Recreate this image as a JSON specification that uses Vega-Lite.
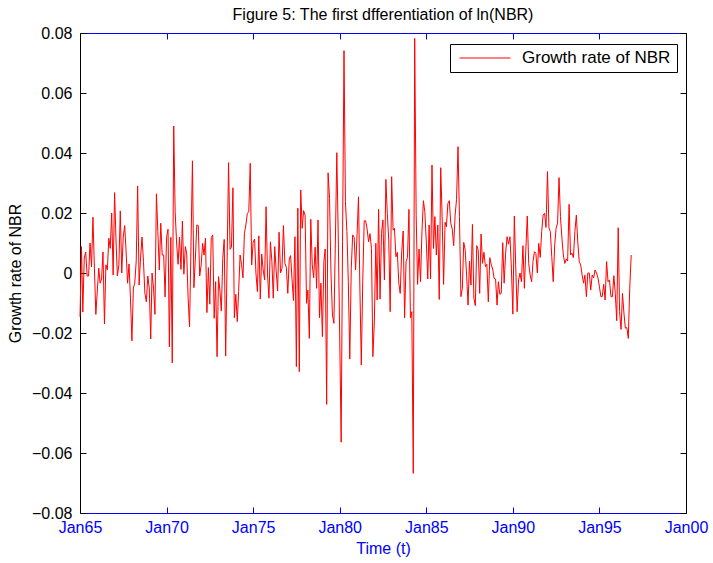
{
  "$schema": "https://vega.github.io/schema/vega-lite/v6.json",
  "width": 606,
  "height": 480,
  "autosize": {"type": "none"},
  "padding": {"left": 80, "top": 33, "right": 27, "bottom": 50},
  "background": "white",
  "config": {"view": {"stroke": null}, "font": "Liberation Sans"},
  "title": {
    "text": "Figure 5: The first dfferentiation of ln(NBR)",
    "anchor": "middle",
    "frame": "group",
    "font": "Liberation Sans",
    "fontSize": 16,
    "fontWeight": "normal",
    "color": "black",
    "baseline": "bottom",
    "offset": 3,
    "dy": 17
  },
  "data": {
    "values": [
      {"t": "1965-01", "g": -0.0146}, {"t": "1965-02", "g": 0.0088}, {"t": "1965-03", "g": -0.013}, {"t": "1965-04", "g": 0.005}, {"t": "1965-05", "g": 0.007}, {"t": "1965-06", "g": -0.001}, {"t": "1965-07", "g": -0.001}, {"t": "1965-08", "g": 0.010}, {"t": "1965-09", "g": 0.002}, {"t": "1965-10", "g": 0.0186}, {"t": "1965-11", "g": 0.0016}, {"t": "1965-12", "g": -0.0138},
      {"t": "1966-01", "g": -0.006}, {"t": "1966-02", "g": 0.0016}, {"t": "1966-03", "g": -0.0034}, {"t": "1966-04", "g": -0.002}, {"t": "1966-05", "g": 0.007}, {"t": "1966-06", "g": -0.017}, {"t": "1966-07", "g": 0.0027}, {"t": "1966-08", "g": 0.001}, {"t": "1966-09", "g": 0.0116}, {"t": "1966-10", "g": 0.0082}, {"t": "1966-11", "g": 0.020}, {"t": "1966-12", "g": -0.0007},
      {"t": "1967-01", "g": 0.0268}, {"t": "1967-02", "g": 0.0104}, {"t": "1967-03", "g": -0.001}, {"t": "1967-04", "g": 0.0027}, {"t": "1967-05", "g": 0.0207}, {"t": "1967-06", "g": 0}, {"t": "1967-07", "g": 0.012}, {"t": "1967-08", "g": 0.0158}, {"t": "1967-09", "g": 0.007}, {"t": "1967-10", "g": -0.0034}, {"t": "1967-11", "g": 0.003}, {"t": "1967-12", "g": -0.0084},
      {"t": "1968-01", "g": -0.0226}, {"t": "1968-02", "g": -0.005}, {"t": "1968-03", "g": -0.0034}, {"t": "1968-04", "g": 0.004}, {"t": "1968-05", "g": 0.029}, {"t": "1968-06", "g": -0.004}, {"t": "1968-07", "g": 0.005}, {"t": "1968-08", "g": 0.012}, {"t": "1968-09", "g": 0.0038}, {"t": "1968-10", "g": -0.0068}, {"t": "1968-11", "g": -0.0096}, {"t": "1968-12", "g": -0.001},
      {"t": "1969-01", "g": -0.005}, {"t": "1969-02", "g": -0.022}, {"t": "1969-03", "g": 0}, {"t": "1969-04", "g": -0.005}, {"t": "1969-05", "g": -0.0138}, {"t": "1969-06", "g": 0.0264}, {"t": "1969-07", "g": 0.0138}, {"t": "1969-08", "g": 0.001}, {"t": "1969-09", "g": 0.0166}, {"t": "1969-10", "g": 0.006}, {"t": "1969-11", "g": 0.006}, {"t": "1969-12", "g": -0.008},
      {"t": "1970-01", "g": 0.0119}, {"t": "1970-02", "g": 0.0146}, {"t": "1970-03", "g": -0.0246}, {"t": "1970-04", "g": 0.0119}, {"t": "1970-05", "g": -0.030}, {"t": "1970-06", "g": 0.049}, {"t": "1970-07", "g": 0.0204}, {"t": "1970-08", "g": 0.010}, {"t": "1970-09", "g": 0.0029}, {"t": "1970-10", "g": 0.012}, {"t": "1970-11", "g": 0.0012}, {"t": "1970-12", "g": 0.0173},
      {"t": "1971-01", "g": -0.0004}, {"t": "1971-02", "g": 0.0088}, {"t": "1971-03", "g": 0.0066}, {"t": "1971-04", "g": -0.0084}, {"t": "1971-05", "g": -0.018}, {"t": "1971-06", "g": 0.010}, {"t": "1971-07", "g": 0.0374}, {"t": "1971-08", "g": -0.0049}, {"t": "1971-09", "g": 0.005}, {"t": "1971-10", "g": 0.016}, {"t": "1971-11", "g": 0.0158}, {"t": "1971-12", "g": -0.001},
      {"t": "1972-01", "g": 0.0027}, {"t": "1972-02", "g": 0.0099}, {"t": "1972-03", "g": 0.006}, {"t": "1972-04", "g": 0.0116}, {"t": "1972-05", "g": -0.0132}, {"t": "1972-06", "g": 0.0018}, {"t": "1972-07", "g": -0.0104}, {"t": "1972-08", "g": 0.0118}, {"t": "1972-09", "g": 0.0127}, {"t": "1972-10", "g": -0.0151}, {"t": "1972-11", "g": -0.0029}, {"t": "1972-12", "g": -0.0279},
      {"t": "1973-01", "g": -0.0012}, {"t": "1973-02", "g": -0.0062}, {"t": "1973-03", "g": -0.0127}, {"t": "1973-04", "g": 0.0049}, {"t": "1973-05", "g": 0.0112}, {"t": "1973-06", "g": -0.0277}, {"t": "1973-07", "g": 0.004}, {"t": "1973-08", "g": 0.0368}, {"t": "1973-09", "g": 0.0079}, {"t": "1973-10", "g": 0.0086}, {"t": "1973-11", "g": 0.0284}, {"t": "1973-12", "g": -0.0149},
      {"t": "1974-01", "g": -0.0071}, {"t": "1974-02", "g": -0.0162}, {"t": "1974-03", "g": -0.0062}, {"t": "1974-04", "g": 0.006}, {"t": "1974-05", "g": 0.0029}, {"t": "1974-06", "g": -0.0016}, {"t": "1974-07", "g": 0.0132}, {"t": "1974-08", "g": 0.016}, {"t": "1974-09", "g": 0.0199}, {"t": "1974-10", "g": 0.0204}, {"t": "1974-11", "g": 0.0366}, {"t": "1974-12", "g": 0.0027},
      {"t": "1975-01", "g": 0.0102}, {"t": "1975-02", "g": 0.0113}, {"t": "1975-03", "g": 0}, {"t": "1975-04", "g": -0.0062}, {"t": "1975-05", "g": 0.0124}, {"t": "1975-06", "g": -0.0087}, {"t": "1975-07", "g": 0.0063}, {"t": "1975-08", "g": 0.001}, {"t": "1975-09", "g": -0.0023}, {"t": "1975-10", "g": 0.0221}, {"t": "1975-11", "g": -0.0007}, {"t": "1975-12", "g": -0.0084},
      {"t": "1976-01", "g": 0.0104}, {"t": "1976-02", "g": 0.0038}, {"t": "1976-03", "g": -0.0084}, {"t": "1976-04", "g": 0.0088}, {"t": "1976-05", "g": 0.0007}, {"t": "1976-06", "g": -0.006}, {"t": "1976-07", "g": 0.0136}, {"t": "1976-08", "g": 0}, {"t": "1976-09", "g": 0.0016}, {"t": "1976-10", "g": 0.0158}, {"t": "1976-11", "g": 0.0032}, {"t": "1976-12", "g": 0.0019},
      {"t": "1977-01", "g": -0.0068}, {"t": "1977-02", "g": 0.0047}, {"t": "1977-03", "g": 0.0058}, {"t": "1977-04", "g": -0.0023}, {"t": "1977-05", "g": -0.0092}, {"t": "1977-06", "g": 0.0121}, {"t": "1977-07", "g": -0.0312}, {"t": "1977-08", "g": 0.0216}, {"t": "1977-09", "g": -0.0329}, {"t": "1977-10", "g": 0.0277}, {"t": "1977-11", "g": 0.0149}, {"t": "1977-12", "g": 0.0208},
      {"t": "1978-01", "g": 0.0193}, {"t": "1978-02", "g": -0.0101}, {"t": "1978-03", "g": -0.0057}, {"t": "1978-04", "g": -0.0218}, {"t": "1978-05", "g": 0.0179}, {"t": "1978-06", "g": 0.0027}, {"t": "1978-07", "g": -0.0016}, {"t": "1978-08", "g": 0.0086}, {"t": "1978-09", "g": -0.0051}, {"t": "1978-10", "g": 0.0177}, {"t": "1978-11", "g": -0.0149}, {"t": "1978-12", "g": -0.0034},
      {"t": "1979-01", "g": -0.0212}, {"t": "1979-02", "g": 0.0038}, {"t": "1979-03", "g": 0.008}, {"t": "1979-04", "g": -0.0438}, {"t": "1979-05", "g": 0.0334}, {"t": "1979-06", "g": 0.0249}, {"t": "1979-07", "g": 0}, {"t": "1979-08", "g": -0.014}, {"t": "1979-09", "g": -0.0168}, {"t": "1979-10", "g": 0.0097}, {"t": "1979-11", "g": 0.0401}, {"t": "1979-12", "g": 0.0127},
      {"t": "1980-01", "g": -0.0207}, {"t": "1980-02", "g": -0.0564}, {"t": "1980-03", "g": 0.0104}, {"t": "1980-04", "g": 0.0741}, {"t": "1980-05", "g": 0.0238}, {"t": "1980-06", "g": 0.0138}, {"t": "1980-07", "g": -0.0029}, {"t": "1980-08", "g": -0.0287}, {"t": "1980-09", "g": 0.0016}, {"t": "1980-10", "g": 0.0127}, {"t": "1980-11", "g": 0.0119}, {"t": "1980-12", "g": 0.001},
      {"t": "1981-01", "g": 0.0127}, {"t": "1981-02", "g": 0.0254}, {"t": "1981-03", "g": -0.004}, {"t": "1981-04", "g": -0.0307}, {"t": "1981-05", "g": -0.0029}, {"t": "1981-06", "g": 0.0174}, {"t": "1981-07", "g": 0.0174}, {"t": "1981-08", "g": 0.0147}, {"t": "1981-09", "g": 0.0104}, {"t": "1981-10", "g": 0.0131}, {"t": "1981-11", "g": 0.0082}, {"t": "1981-12", "g": -0.0279},
      {"t": "1982-01", "g": -0.0162}, {"t": "1982-02", "g": 0.0099}, {"t": "1982-03", "g": -0.009}, {"t": "1982-04", "g": 0.0212}, {"t": "1982-05", "g": -0.0087}, {"t": "1982-06", "g": 0.0132}, {"t": "1982-07", "g": 0.0177}, {"t": "1982-08", "g": -0.0023}, {"t": "1982-09", "g": 0.0312}, {"t": "1982-10", "g": 0.0199}, {"t": "1982-11", "g": 0.011}, {"t": "1982-12", "g": -0.0129},
      {"t": "1983-01", "g": 0.0321}, {"t": "1983-02", "g": 0.0143}, {"t": "1983-03", "g": 0.0149}, {"t": "1983-04", "g": 0.0054}, {"t": "1983-05", "g": 0.0069}, {"t": "1983-06", "g": -0.0034}, {"t": "1983-07", "g": -0.0068}, {"t": "1983-08", "g": 0.0071}, {"t": "1983-09", "g": 0.014}, {"t": "1983-10", "g": -0.0149}, {"t": "1983-11", "g": 0.0038}, {"t": "1983-12", "g": 0.0052},
      {"t": "1984-01", "g": 0.0212}, {"t": "1984-02", "g": -0.0149}, {"t": "1984-03", "g": -0.0129}, {"t": "1984-04", "g": -0.0668}, {"t": "1984-05", "g": 0.0782}, {"t": "1984-06", "g": 0.0193}, {"t": "1984-07", "g": -0.0038}, {"t": "1984-08", "g": 0.008}, {"t": "1984-09", "g": -0.0029}, {"t": "1984-10", "g": 0.0138}, {"t": "1984-11", "g": 0.0241}, {"t": "1984-12", "g": 0.0204},
      {"t": "1985-01", "g": 0.0104}, {"t": "1985-02", "g": -0.002}, {"t": "1985-03", "g": 0.016}, {"t": "1985-04", "g": -0.002}, {"t": "1985-05", "g": 0.036}, {"t": "1985-06", "g": 0.0082}, {"t": "1985-07", "g": 0.0188}, {"t": "1985-08", "g": 0.006}, {"t": "1985-09", "g": 0.016}, {"t": "1985-10", "g": -0.0088}, {"t": "1985-11", "g": 0.0351}, {"t": "1985-12", "g": 0.0188},
      {"t": "1986-01", "g": -0.0038}, {"t": "1986-02", "g": 0.0169}, {"t": "1986-03", "g": 0.0154}, {"t": "1986-04", "g": 0.0232}, {"t": "1986-05", "g": 0.0241}, {"t": "1986-06", "g": 0.0166}, {"t": "1986-07", "g": 0.0147}, {"t": "1986-08", "g": 0.0091}, {"t": "1986-09", "g": 0.0193}, {"t": "1986-10", "g": 0.0246}, {"t": "1986-11", "g": 0.0421}, {"t": "1986-12", "g": 0.0188},
      {"t": "1987-01", "g": -0.0079}, {"t": "1987-02", "g": -0.0051}, {"t": "1987-03", "g": 0.0102}, {"t": "1987-04", "g": 0.0077}, {"t": "1987-05", "g": -0.0007}, {"t": "1987-06", "g": -0.0107}, {"t": "1987-07", "g": 0.004}, {"t": "1987-08", "g": -0.004}, {"t": "1987-09", "g": 0.0162}, {"t": "1987-10", "g": -0.0084}, {"t": "1987-11", "g": -0.0109}, {"t": "1987-12", "g": 0.0091},
      {"t": "1988-01", "g": 0.0077}, {"t": "1988-02", "g": -0.0068}, {"t": "1988-03", "g": 0.013}, {"t": "1988-04", "g": 0.0032}, {"t": "1988-05", "g": 0.0069}, {"t": "1988-06", "g": 0.0021}, {"t": "1988-07", "g": 0.0029}, {"t": "1988-08", "g": -0.0096}, {"t": "1988-09", "g": 0.0051}, {"t": "1988-10", "g": 0.0029}, {"t": "1988-11", "g": 0.0013}, {"t": "1988-12", "g": -0.0018},
      {"t": "1989-01", "g": -0.002}, {"t": "1989-02", "g": -0.0107}, {"t": "1989-03", "g": -0.0029}, {"t": "1989-04", "g": -0.0071}, {"t": "1989-05", "g": -0.0068}, {"t": "1989-06", "g": 0.0101}, {"t": "1989-07", "g": -0.0034}, {"t": "1989-08", "g": 0.0066}, {"t": "1989-09", "g": 0.0121}, {"t": "1989-10", "g": 0.0096}, {"t": "1989-11", "g": 0.0121}, {"t": "1989-12", "g": 0.0016},
      {"t": "1990-01", "g": -0.0137}, {"t": "1990-02", "g": 0.019}, {"t": "1990-03", "g": 0.0027}, {"t": "1990-04", "g": -0.0129}, {"t": "1990-05", "g": -0.0023}, {"t": "1990-06", "g": 0}, {"t": "1990-07", "g": -0.0029}, {"t": "1990-08", "g": 0.0091}, {"t": "1990-09", "g": -0.0051}, {"t": "1990-10", "g": 0.0077}, {"t": "1990-11", "g": 0.019}, {"t": "1990-12", "g": 0.0032},
      {"t": "1991-01", "g": -0.0007}, {"t": "1991-02", "g": -0.0029}, {"t": "1991-03", "g": 0.0038}, {"t": "1991-04", "g": 0.0071}, {"t": "1991-05", "g": 0.0066}, {"t": "1991-06", "g": 0}, {"t": "1991-07", "g": 0.0099}, {"t": "1991-08", "g": 0.0052}, {"t": "1991-09", "g": 0.0138}, {"t": "1991-10", "g": 0.0193}, {"t": "1991-11", "g": 0.0199}, {"t": "1991-12", "g": 0.0152},
      {"t": "1992-01", "g": 0.0338}, {"t": "1992-02", "g": 0.0151}, {"t": "1992-03", "g": 0.0138}, {"t": "1992-04", "g": 0.0054}, {"t": "1992-05", "g": -0.0029}, {"t": "1992-06", "g": 0.0093}, {"t": "1992-07", "g": 0.0149}, {"t": "1992-08", "g": 0.0166}, {"t": "1992-09", "g": 0.0318}, {"t": "1992-10", "g": 0.0188}, {"t": "1992-11", "g": 0.0116}, {"t": "1992-12", "g": 0.006},
      {"t": "1993-01", "g": 0.0032}, {"t": "1993-02", "g": 0.0047}, {"t": "1993-03", "g": 0.004}, {"t": "1993-04", "g": 0.0229}, {"t": "1993-05", "g": 0.006}, {"t": "1993-06", "g": 0.0066}, {"t": "1993-07", "g": 0.0051}, {"t": "1993-08", "g": 0.0138}, {"t": "1993-09", "g": 0.0193}, {"t": "1993-10", "g": 0.0104}, {"t": "1993-11", "g": 0.0038}, {"t": "1993-12", "g": 0.0027},
      {"t": "1994-01", "g": -0.0007}, {"t": "1994-02", "g": -0.0034}, {"t": "1994-03", "g": -0.0007}, {"t": "1994-04", "g": -0.0079}, {"t": "1994-05", "g": 0}, {"t": "1994-06", "g": 0}, {"t": "1994-07", "g": -0.0057}, {"t": "1994-08", "g": -0.0007}, {"t": "1994-09", "g": -0.0016}, {"t": "1994-10", "g": 0.001}, {"t": "1994-11", "g": 0}, {"t": "1994-12", "g": -0.0016},
      {"t": "1995-01", "g": -0.0046}, {"t": "1995-02", "g": -0.0079}, {"t": "1995-03", "g": -0.0079}, {"t": "1995-04", "g": -0.0038}, {"t": "1995-05", "g": -0.009}, {"t": "1995-06", "g": 0.0038}, {"t": "1995-07", "g": -0.0029}, {"t": "1995-08", "g": -0.0023}, {"t": "1995-09", "g": -0.0079}, {"t": "1995-10", "g": -0.0079}, {"t": "1995-11", "g": -0.0009}, {"t": "1995-12", "g": -0.0068},
      {"t": "1996-01", "g": -0.0159}, {"t": "1996-02", "g": 0.0151}, {"t": "1996-03", "g": -0.0129}, {"t": "1996-04", "g": -0.0188}, {"t": "1996-05", "g": -0.0068}, {"t": "1996-06", "g": -0.0134}, {"t": "1996-07", "g": -0.0184}, {"t": "1996-08", "g": -0.0182}, {"t": "1996-09", "g": -0.0218}, {"t": "1996-10", "g": -0.0051}, {"t": "1996-11", "g": 0.006}
    ]
  },
  "layer": [
    {
      "mark": {"type": "line", "strokeWidth": 1, "interpolate": "linear"},
      "encoding": {
        "x": {
          "field": "t",
          "type": "temporal",
          "scale": {
            "type": "utc",
            "nice": false,
            "domain": [
              {"year": 1965, "month": 1, "date": 1, "utc": true},
              {"year": 2000, "month": 1, "date": 1, "utc": true}
            ]
          },
          "axis": {
            "orient": "bottom",
            "values": [
              {"year": 1965, "month": 1, "date": 1, "utc": true},
              {"year": 1970, "month": 1, "date": 1, "utc": true},
              {"year": 1975, "month": 1, "date": 1, "utc": true},
              {"year": 1980, "month": 1, "date": 1, "utc": true},
              {"year": 1985, "month": 1, "date": 1, "utc": true},
              {"year": 1990, "month": 1, "date": 1, "utc": true},
              {"year": 1995, "month": 1, "date": 1, "utc": true},
              {"year": 2000, "month": 1, "date": 1, "utc": true}
            ],
            "labelExpr": "utcFormat(datum.value, '%b%y')",
            "grid": false,
            "labelFlush": false,
            "labelOverlap": false,
            "labelFont": "Liberation Sans",
            "labelFontSize": 16,
            "labelColor": "#0000ff",
            "labelPadding": 12,
            "domainColor": "#0000ff",
            "domainWidth": 1,
            "tickColor": "#0000ff",
            "tickWidth": 1,
            "tickSize": -6,
            "title": "Time (t)",
            "titleFont": "Liberation Sans",
            "titleFontSize": 16,
            "titleFontWeight": "normal",
            "titleColor": "#0000ff",
            "titlePadding": 5
          }
        },
        "y": {
          "field": "g",
          "type": "quantitative",
          "scale": {"domain": [-0.08, 0.08], "nice": false, "zero": false},
          "axis": {
            "orient": "left",
            "values": [-0.08, -0.06, -0.04, -0.02, 0, 0.02, 0.04, 0.06, 0.08],
            "labelExpr": "datum.value == 0 ? '0' : format(datum.value, '.2f')",
            "grid": false,
            "labelFlush": false,
            "labelOverlap": false,
            "labelFont": "Liberation Sans",
            "labelFontSize": 16,
            "labelColor": "black",
            "labelPadding": 14,
            "domainColor": "black",
            "domainWidth": 1,
            "tickColor": "black",
            "tickWidth": 1,
            "tickSize": -6,
            "title": "Growth rate of NBR",
            "titleFont": "Liberation Sans",
            "titleFontSize": 16,
            "titleFontWeight": "normal",
            "titleColor": "black",
            "titlePadding": 8
          }
        },
        "color": {
          "datum": "Growth rate of NBR",
          "type": "nominal",
          "scale": {"range": ["#ff0000"]},
          "legend": {
            "orient": "none",
            "legendX": 370,
            "legendY": 11,
            "title": null,
            "symbolType": "stroke",
            "symbolSize": 2601,
            "symbolStrokeWidth": 1,
            "symbolOffset": 3,
            "clipHeight": 16,
            "labelFont": "Liberation Sans",
            "labelFontSize": 17,
            "labelColor": "black",
            "labelOffset": 11,
            "padding": 6,
            "strokeColor": "black",
            "fillColor": "white"
          }
        }
      }
    },
    {
      "mark": {"type": "line", "strokeOpacity": 0},
      "encoding": {
        "x": {
          "field": "t",
          "type": "temporal",
          "axis": {
            "orient": "top",
            "values": [
              {"year": 1965, "month": 1, "date": 1, "utc": true},
              {"year": 1970, "month": 1, "date": 1, "utc": true},
              {"year": 1975, "month": 1, "date": 1, "utc": true},
              {"year": 1980, "month": 1, "date": 1, "utc": true},
              {"year": 1985, "month": 1, "date": 1, "utc": true},
              {"year": 1990, "month": 1, "date": 1, "utc": true},
              {"year": 1995, "month": 1, "date": 1, "utc": true},
              {"year": 2000, "month": 1, "date": 1, "utc": true}
            ],
            "labels": false,
            "title": null,
            "grid": false,
            "domainColor": "#0000ff",
            "tickColor": "#0000ff",
            "tickSize": -6
          }
        },
        "y": {
          "field": "g",
          "type": "quantitative",
          "axis": {
            "orient": "right",
            "values": [-0.08, -0.06, -0.04, -0.02, 0, 0.02, 0.04, 0.06, 0.08],
            "labels": false,
            "title": null,
            "grid": false,
            "domainColor": "black",
            "tickColor": "black",
            "tickSize": -6
          }
        }
      }
    }
  ]
}
